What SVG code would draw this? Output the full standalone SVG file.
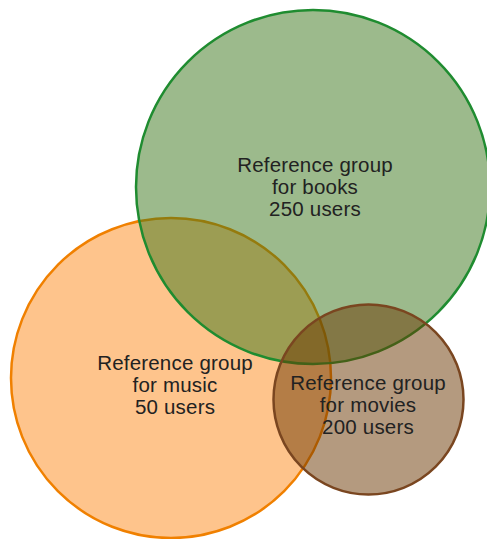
<svg xmlns="http://www.w3.org/2000/svg" width="487" height="539" viewBox="0 0 487 539">
<style>
.c{stroke-width:2.5}
.t{font-family:"Liberation Sans",Arial,Helvetica,sans-serif;font-size:20.5px;letter-spacing:0.2px;fill:#222;text-anchor:middle}
</style>
<rect width="487" height="539" fill="#fff"/>
<g id="music">
<circle class="c" cx="171" cy="378" r="160" fill="rgb(253,137,25)" fill-opacity="0.5" stroke="#f08000"/>
</g>
<g id="books">
<circle class="c" cx="313" cy="187" r="177" fill="rgb(57,117,25)" fill-opacity="0.5" stroke="#1f8c30"/>
</g>
<g id="movies">
<circle class="c" cx="368.5" cy="399.5" r="95" fill="rgb(105,53,0)" fill-opacity="0.5" stroke="#7a4620"/>
</g>
<g id="labels">
<text class="t" x="315" y="172">Reference group</text>
<text class="t" x="315" y="194">for books</text>
<text class="t" x="315" y="216">250 users</text>
<text class="t" x="175" y="370">Reference group</text>
<text class="t" x="175" y="392">for music</text>
<text class="t" x="175" y="414">50 users</text>
<text class="t" x="368" y="390">Reference group</text>
<text class="t" x="368" y="412">for movies</text>
<text class="t" x="368" y="434">200 users</text>
</g>
</svg>
